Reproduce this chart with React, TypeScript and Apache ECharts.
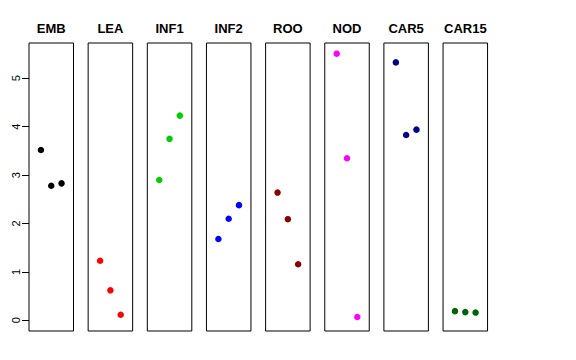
import React, { useEffect, useRef } from "react";
import * as echarts from "echarts";

const panels = ["EMB", "LEA", "INF1", "INF2", "ROO", "NOD", "CAR5", "CAR15"];
const colors = ["#000000", "#FF0000", "#00CD00", "#0000FF", "#8B0000", "#FF00FF", "#00008B", "#006400"];
const xPositions = [1, 2, 3];
const values = [
  [3.52, 2.78, 2.83],
  [1.23, 0.62, 0.115],
  [2.9, 3.75, 4.23],
  [1.68, 2.1, 2.38],
  [2.64, 2.09, 1.16],
  [5.51, 3.35, 0.07],
  [5.33, 3.83, 3.94],
  [0.19, 0.17, 0.16],
];
const yTicks = [0, 1, 2, 3, 4, 5];

export default function App() {
  const ref = useRef<HTMLDivElement>(null);
  useEffect(() => {
    document.body.style.margin = "0";
    const chart = echarts.init(ref.current!, undefined, { renderer: "svg" });
    const left0 = 29;
    const pitch = 59.15;
    const w = 44.5;
    const top = 43;
    const h = 288;
    const grids: any[] = [];
    const xAxes: any[] = [];
    const yAxes: any[] = [];
    const series: any[] = [];
    const titles: any[] = [];
    panels.forEach((name, i) => {
      const l = left0 + i * pitch;
      grids.push({ left: l, top, width: w, height: h, show: true, borderColor: "#000", borderWidth: 1, backgroundColor: "transparent" });
      xAxes.push({ type: "value", gridIndex: i, min: -0.16, max: 4.16, show: false });
      yAxes.push({ type: "value", gridIndex: i, min: -0.2204, max: 5.7304, show: false });
      series.push({
        type: "scatter",
        xAxisIndex: i,
        yAxisIndex: i,
        symbolSize: 6.5,
        itemStyle: { color: colors[i], opacity: 1 },
        data: xPositions.map((x, k) => [x, values[i][k]]),
      });
      titles.push({
        text: name,
        left: l + w / 2,
        top: 22,
        textAlign: "center",
        padding: 0,
        textStyle: { fontFamily: "Liberation Sans, Arial, sans-serif", fontWeight: "bold", fontSize: 13, color: "#000" },
      });
    });
    grids.push({ left: left0, top: 78.3, width: 1, height: 242, show: false });
    xAxes.push({ type: "value", gridIndex: 8, show: false });
    yAxes.push({
      type: "value",
      gridIndex: 8,
      min: 0,
      max: 5,
      interval: 1,
      axisLine: { show: false },
      axisTick: { show: true, length: 7, lineStyle: { color: "#000", width: 1 } },
      splitLine: { show: false },
      axisLabel: {
        show: true,
        rotate: 90,
        margin: 8,
        fontSize: 11,
        color: "#000",
        fontFamily: "Liberation Sans, Arial, sans-serif",
        showMinLabel: true,
        showMaxLabel: true,
      },
      data: yTicks,
    });
    chart.setOption({
      animation: false,
      backgroundColor: "#fff",
      title: titles,
      grid: grids,
      xAxis: xAxes,
      yAxis: yAxes,
      series,
    });
    return () => chart.dispose();
  }, []);
  return <div ref={ref} style={{ width: 576, height: 360 }} />;
}
